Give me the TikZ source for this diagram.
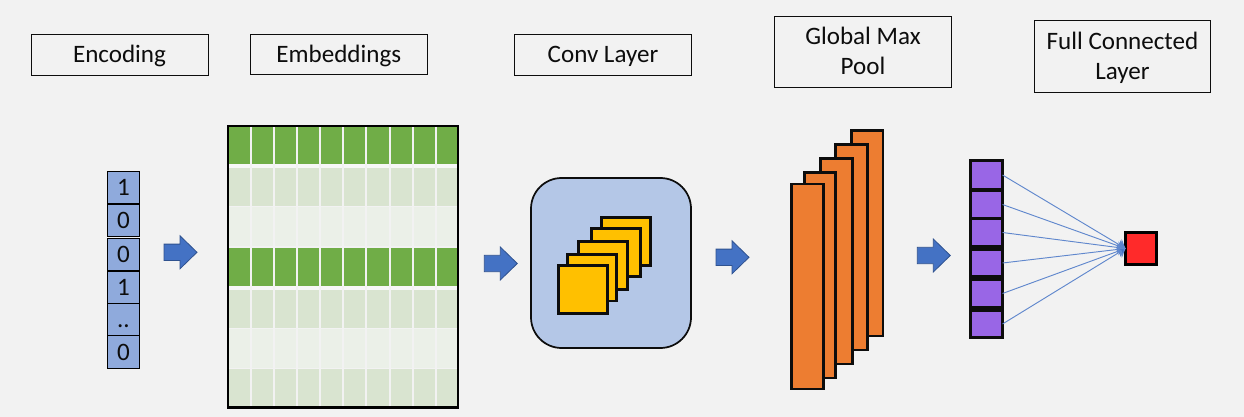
\documentclass[tikz,border=0pt]{standalone}
\usepackage{fontspec}
\setmainfont{Carlito}
\usetikzlibrary{arrows.meta,calc}
\definecolor{bgc}{HTML}{F2F2F2}
\definecolor{encc}{HTML}{8FAADC}
\definecolor{gr}{HTML}{70AD47}
\definecolor{grl}{HTML}{D9E4D0}
\definecolor{grp}{HTML}{EBF0E8}
\definecolor{org}{HTML}{ED7D31}
\definecolor{yel}{HTML}{FFC000}
\definecolor{roundc}{HTML}{B4C7E7}
\definecolor{pur}{HTML}{9966E6}
\definecolor{redc}{HTML}{FF2A2A}
\definecolor{arr}{HTML}{4472C4}
\definecolor{arrb}{HTML}{2F528F}
\definecolor{ink}{HTML}{0D0D0D}
\tikzset{
  x=0.75pt,y=-0.75pt,
  labelbox/.style={draw=ink,line width=0.75pt,fill=bgc,inner sep=0pt,outer sep=0pt,align=center,text height=12pt,text depth=0pt,font=\fontsize{18.8}{22.5}\selectfont,text=ink},
  twolines/.style={text height=34.5pt},
  enccell/.style={draw=black,line width=1.1pt,fill=encc,inner sep=0pt,outer sep=0pt,text height=12pt,text depth=0pt,font=\fontsize{18.8}{22}\selectfont,text=ink},
  sepline/.style={line width=1.5pt,draw=bgc},
  yelbox/.style={draw=ink,line width=2pt,fill=yel,outer sep=0pt},
  orgbox/.style={draw=ink,line width=2.2pt,fill=org,outer sep=0pt},
  purcell/.style={draw=ink,line width=2.25pt,fill=pur,outer sep=0pt},
  blockarrow/.style={draw=arrb,line width=0.6pt,fill=arr},
  fcline/.style={draw=arr!85!white,line width=0.7pt,-{Stealth[length=6pt,width=9pt,fill=arr]}}
}
\newcommand{\pxbox}[6]{\node[#1,minimum width=#4*0.75pt-#2*0.75pt,minimum height=#5*0.75pt-#3*0.75pt,anchor=north west] (#6) at (#2,#3) {};}
\newcommand{\blockarr}[2]{\draw[blockarrow] (#1,#2-8.2) -- (#1+16,#2-8.2) -- (#1+16,#2-16.5) -- (#1+33,#2) -- (#1+16,#2+16.5) -- (#1+16,#2+8.2) -- (#1,#2+8.2) -- cycle;}
\begin{document}
\begin{tikzpicture}
\useasboundingbox (0,0) rectangle (1244,417);
\fill[bgc] (0,0) rectangle (1244,417);
% labels
\node[labelbox,minimum width=132.75pt,minimum height=30.75pt] (l1) at (119.5,54.8) {Encoding};
\node[labelbox,minimum width=132.75pt,minimum height=30.2pt] (l2) at (338.8,54.4) {Embeddings};
\node[labelbox,minimum width=133pt,minimum height=30.75pt] (l3) at (603,54.8) {Conv Layer};
\node[labelbox,twolines,minimum width=133pt,minimum height=53.25pt] (l4) at (863,51.8) {Global Max\\Pool};
\node[labelbox,twolines,minimum width=132.3pt,minimum height=54pt] (l5) at (1122.5,56.3) {Full Connected\\Layer};
% encoding
\foreach \t/\a/\b/\n in {1/171.5/203.5/e1,0/204.5/236.5/e2,0/238.5/270.5/e3,1/271.5/303.5/e4,../303.5/335.5/e5,0/335.5/368.5/e6}{
  \node[enccell,minimum width=24pt,minimum height=(\b-\a)*0.75pt] (\n) at (123.5,{(\a+\b)/2}) {\t};
}
% embeddings table
\fill[gr]  (228,127) rectangle (458,164);
\fill[grl] (228,168) rectangle (458,206);
\fill[grp] (228,207) rectangle (458,246);
\fill[gr]  (228,248) rectangle (458,285.5);
\fill[grl] (228,290) rectangle (458,327.5);
\fill[grp] (228,328.5) rectangle (458,368);
\fill[grl] (228,369) rectangle (458,407);
\fill[bgc!60!white] (228,164) rectangle (458,168);
\fill[bgc!60!white] (228,285.5) rectangle (458,290);
\foreach \x in {251,274,297,320.3,343.3,366.3,389.5,412.5,435.5}{\draw[sepline] (\x,127) -- (\x,407);}
\draw[black,line width=1.6pt] (228,126) rectangle (458,407.5);
% arrows
\blockarr{164}{252.3}
\blockarr{484.3}{263.5}
\blockarr{716}{257.3}
\blockarr{917.3}{255.5}
% conv
\draw[draw=ink,line width=1.3pt,fill=roundc,rounded corners=23pt] (531,178) rectangle (691,348);
\foreach \a/\b/\c/\d/\n in {601.5/217.5/650.5/265.5/y5,591.5/228.5/640.5/276.5/y4,578.5/241.5/627.5/289.5/y3,567.5/254.5/616.5/301/y2,558.5/265.5/607.5/313.5/y1}{
  \pxbox{yelbox}{\a}{\b}{\c}{\d}{\n}
}
% pool
\foreach \a/\b/\c/\d/\n in {851.5/130.5/883/336/o5,835.5/144.5/867.5/350/o4,820.5/158.5/852.5/364/o3,804.5/172.5/835.5/378/o2,791.5/184/823.5/389/o1}{
  \pxbox{orgbox}{\a}{\b}{\c}{\d}{\n}
}
% fully connected
\foreach \a/\b/\n in {160.5/189.5/p1,190.5/218.5/p2,218.5/246.5/p3,249.5/276.5/p4,279.5/307.5/p5,310.5/337.5/p6}{
  \pxbox{purcell}{970.5}{\a}{1002.5}{\b}{\n}
}
\pxbox{draw=black,line width=2.25pt,fill=redc,outer sep=0pt}{1125.5}{232.5}{1156.5}{264.5}{out}
\foreach \n in {p1,p2,p3,p4,p5,p6}{
  \draw[fcline] (\n.east) -- (out.west);
}
\end{tikzpicture}
\end{document}
